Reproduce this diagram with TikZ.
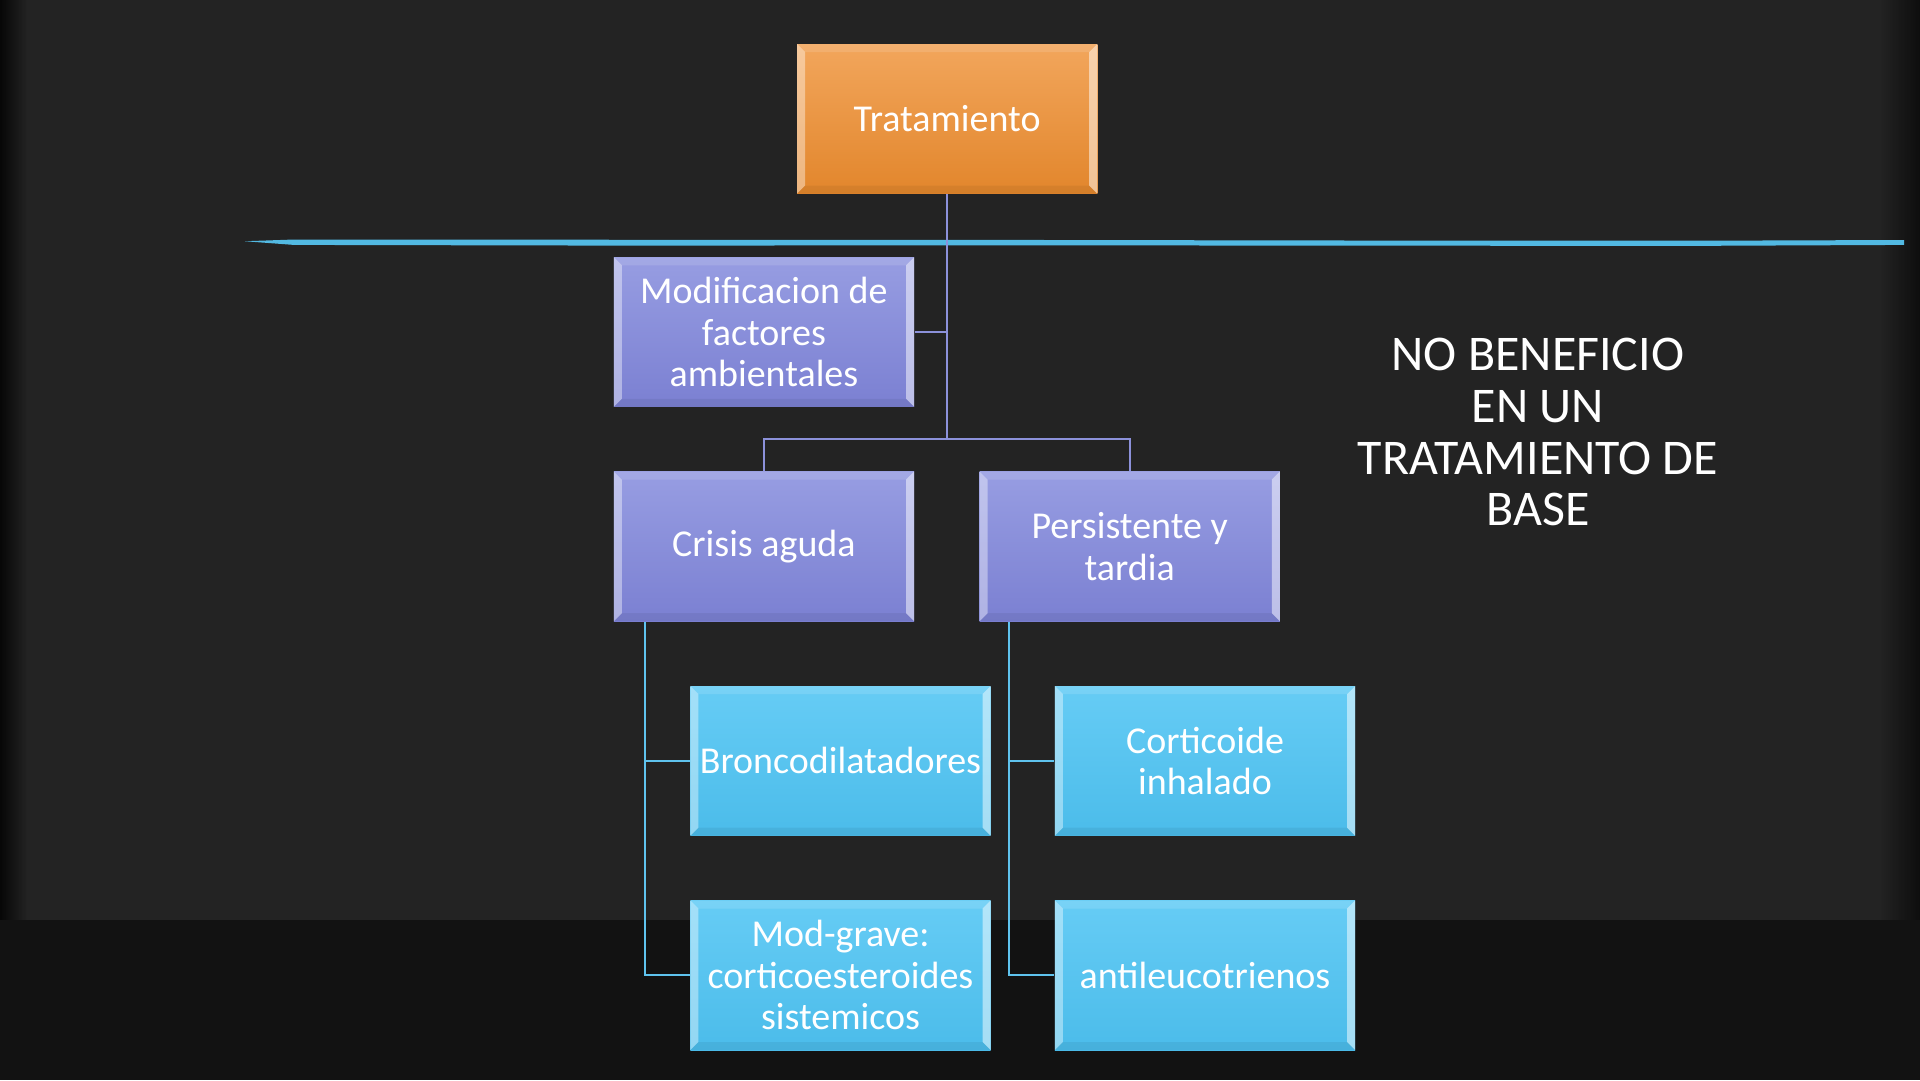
\documentclass[tikz,border=0pt]{standalone}
\usepackage{fontspec}
\setmainfont{Carlito}
\usetikzlibrary{positioning, calc}

\definecolor{board}{HTML}{232323}
\definecolor{boardlow}{HTML}{121212}
\definecolor{chalk}{HTML}{52B9E2}
\definecolor{orTop}{HTML}{F2A65C}
\definecolor{orBot}{HTML}{E2862C}
\definecolor{puTop}{HTML}{979DE2}
\definecolor{puBot}{HTML}{7B80D2}
\definecolor{cyTop}{HTML}{66CCF5}
\definecolor{cyBot}{HTML}{4BBCEA}
\definecolor{upLine}{HTML}{8C91DA}
\definecolor{lowLine}{HTML}{5FC3EE}

\begin{document}
\begin{tikzpicture}[x=0.0122449cm, y=-0.0122449cm, node distance=2.143cm, on grid,
      every node/.style={text=white, align=center, font=\fontsize{10.8}{11.8}\selectfont},
      bevel/.style={path picture={
        \fill[white, opacity=0.4] (path picture bounding box.north west) -- ++(0.08cm,-0.08cm)
          -- ([shift={(0.08cm,0.08cm)}]path picture bounding box.south west) -- (path picture bounding box.south west) -- cycle;
        \fill[white, opacity=0.5] (path picture bounding box.north east) -- ++(-0.08cm,-0.08cm)
          -- ([shift={(-0.08cm,0.08cm)}]path picture bounding box.south east) -- (path picture bounding box.south east) -- cycle;
        \fill[white, opacity=0.12] (path picture bounding box.north west) -- ++(0.08cm,-0.08cm)
          -- ([shift={(-0.08cm,-0.08cm)}]path picture bounding box.north east) -- (path picture bounding box.north east) -- cycle;
        \fill[black, opacity=0.06] (path picture bounding box.south west) -- ++(0.08cm,0.08cm)
          -- ([shift={(-0.08cm,0.08cm)}]path picture bounding box.south east) -- (path picture bounding box.south east) -- cycle;}},
      box/.style={rectangle, minimum width=3cm, minimum height=1.494cm, inner sep=0pt, bevel},
      orbox/.style={box, top color=orTop, bottom color=orBot},
      pubox/.style={box, top color=puTop, bottom color=puBot},
      cybox/.style={box, top color=cyTop, bottom color=cyBot},
      upline/.style={draw=upLine, line width=0.6pt},
      lowline/.style={draw=lowLine, line width=0.6pt},
      nota/.style={font=\fontsize{14.2}{14.7}\selectfont}]
  % pizarra
  \fill[board] (0,0) rectangle (1568,751);
  \fill[boardlow] (0,751) rectangle (1568,882);
  \shade[left color=black, right color=board, opacity=0.8] (0,0) rectangle (22,751);
  \shade[left color=board, right color=black, opacity=0.6] (1535,0) rectangle (1568,751);
  \fill[chalk] (200,197) -- (240,195.6) -- (520,195.8) -- (800,195.9) -- (1100,196.4) -- (1380,196.6) -- (1555,196)
    -- (1555,200) -- (1380,200.8) -- (1100,200.6) -- (800,200.3) -- (520,200.6) -- (240,200) -- cycle;

  \node[orbox] (trat) at (773.5,97) {Tratamiento};
  \node[pubox] (mod) [below left=2.131cm and 1.831cm of trat] {Modificacion de\\factores\\ambientales};
  \node[pubox] (crisis) [below=of mod] {Crisis aguda};
  \node[pubox] (pers) [right=3.655cm of crisis] {Persistente y\\tardia};
  \node[cybox] (bronc) [below right=2.143cm and 0.765cm of crisis] {Broncodilatadores};
  \node[cybox] (cort) [right=3.643cm of bronc] {Corticoide\\inhalado};
  \node[cybox] (sist) [below=of bronc] {Mod-grave:\\corticoesteroides\\sistemicos};
  \node[cybox] (antil) [below=of cort] {antileucotrienos};
  \node[nota] (nobenef) at (1256,353) {NO BENEFICIO\\EN UN\\TRATAMIENTO DE\\BASE};

  \coordinate (mid) at ($(mod.south)!0.5!(crisis.north)$);
  \draw[upline] (trat) -- (trat |- mid);
  \draw[upline] (mod) -- (mod -| trat);
  \draw[upline] (crisis) |- (trat |- mid) -| (pers);

  \coordinate (cl) at ([xshift=0.32cm]crisis.south west);
  \coordinate (pl) at ([xshift=0.3cm]pers.south west);
  \draw[lowline] (cl) |- (sist);
  \draw[lowline] (cl |- bronc) -- (bronc);
  \draw[lowline] (pl) |- (antil);
  \draw[lowline] (pl |- cort) -- (cort);
\end{tikzpicture}
\end{document}
